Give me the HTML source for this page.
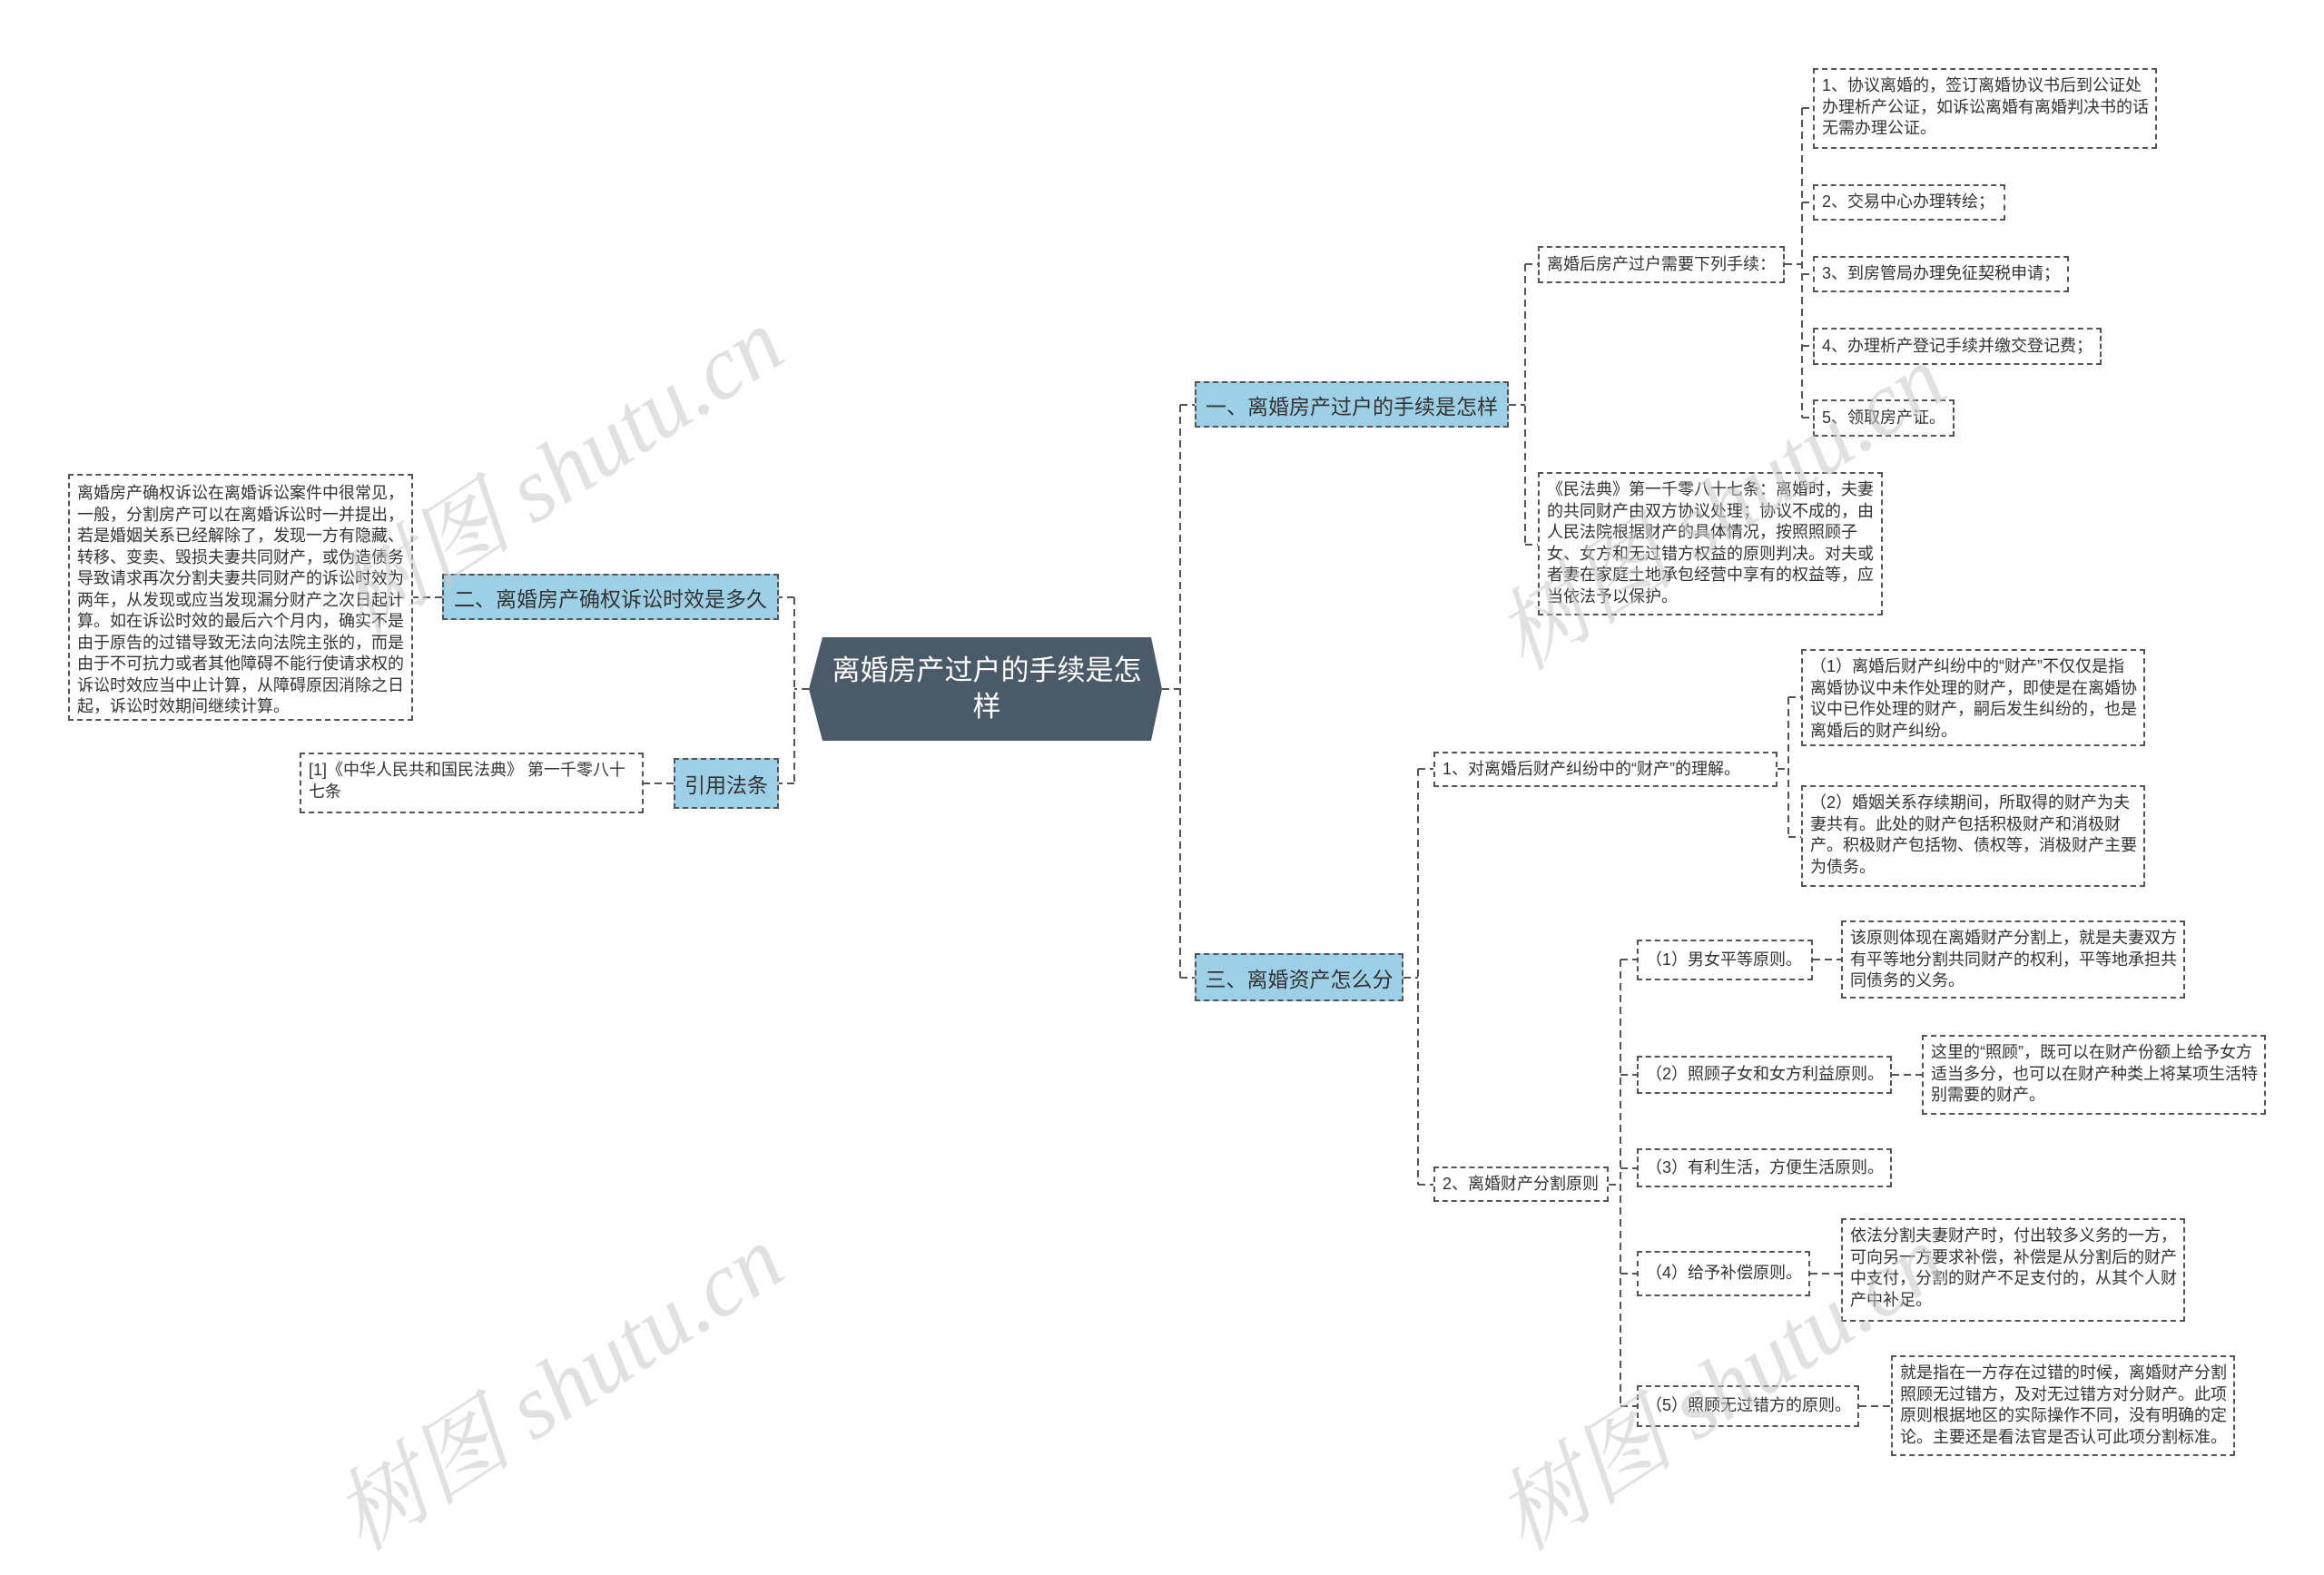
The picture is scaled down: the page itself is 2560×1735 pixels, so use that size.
<!DOCTYPE html>
<html><head><meta charset="utf-8"><style>
body{margin:0;width:2560px;height:1675px;background:#fff;position:relative;overflow:hidden;font-family:"Liberation Sans","Noto Sans CJK SC",sans-serif;color:#333}
.n{position:absolute;box-sizing:border-box;border:2px dashed #555;font-size:18px;line-height:23.5px;padding:6px 6px 6px 8px;background:#fff;overflow:hidden}
.s{display:flex;align-items:center;white-space:nowrap}
.h{position:absolute;box-sizing:border-box;border:2px dashed #555;background:#9dd0e6;font-size:23px;display:flex;align-items:center;justify-content:center;color:#333;white-space:nowrap}
.wm{position:absolute;font-family:"Liberation Serif","Noto Serif CJK SC",serif;font-size:100px;color:rgba(200,200,200,0.55);transform:rotate(-33deg);white-space:nowrap;font-style:italic}
svg{position:absolute;left:0;top:0}
</style></head><body>
<svg width="2560" height="1675" fill="none" stroke="#555" stroke-width="2" stroke-dasharray="8,5">
<path d="M1280 759H1300M1300 446V1077M1300 446H1316M1300 1077H1316"/>
<path d="M891 759H875M875 658V863M875 658H858M875 863H858"/>
<path d="M487 658H455M742 863H709"/>
<path d="M1662 446H1680M1680 291V600M1680 291H1694M1680 600H1694"/>
<path d="M1966 291H1985M1985 119V460M1985 119H1997M1985 223H1997M1985 302H1997M1985 381H1997M1985 460H1997"/>
<path d="M1546 1077H1562M1562 847V1305M1562 847H1579M1562 1305H1579"/>
<path d="M1958 847H1970M1970 768V922M1970 768H1984M1970 922H1984"/>
<path d="M1772 1305H1785M1785 1057V1549M1785 1057H1803M1785 1184H1803M1785 1287H1803M1785 1403H1803M1785 1549H1803"/>
<path d="M1997 1057H2028M2084 1184H2117M1994 1403H2028M2048 1549H2083"/>
</svg>
<svg width="2560" height="1675"><polygon points="891,759 906,702 1268,702 1280,759 1268,816 906,816" fill="#4b5a69"/></svg>
<div style="position:absolute;left:915px;top:708px;width:344px;height:102px;display:flex;align-items:center;justify-content:center;text-align:center;color:#fff;font-size:31px;line-height:40px">离婚房产过户的手续是怎样</div>
<div class="h" style="left:1316px;top:420px;width:346px;height:51px">一、离婚房产过户的手续是怎样</div>
<div class="h" style="left:487px;top:632px;width:371px;height:51px">二、离婚房产确权诉讼时效是多久</div>
<div class="h" style="left:742px;top:835px;width:116px;height:56px">引用法条</div>
<div class="h" style="left:1316px;top:1050px;width:230px;height:53px">三、离婚资产怎么分</div>
<div class="n" style="left:75px;top:522px;width:380px;height:272px;padding-top:8px">离婚房产确权诉讼在离婚诉讼案件中很常见，一般，分割房产可以在离婚诉讼时一并提出，若是婚姻关系已经解除了，发现一方有隐藏、转移、变卖、毁损夫妻共同财产，或伪造债务导致请求再次分割夫妻共同财产的诉讼时效为两年，从发现或应当发现漏分财产之次日起计算。如在诉讼时效的最后六个月内，确实不是由于原告的过错导致无法向法院主张的，而是由于不可抗力或者其他障碍不能行使请求权的诉讼时效应当中止计算，从障碍原因消除之日起，诉讼时效期间继续计算。</div>
<div class="n" style="left:330px;top:829px;width:379px;height:67px">[1]《中华人民共和国民法典》 第一千零八十七条</div>
<div class="n s" style="left:1694px;top:271px;width:272px;height:41px">离婚后房产过户需要下列手续：</div>
<div class="n" style="left:1997px;top:75px;width:379px;height:89px">1、协议离婚的，签订离婚协议书后到公证处办理析产公证，如诉讼离婚有离婚判决书的话无需办理公证。</div>
<div class="n s" style="left:1997px;top:203px;width:212px;height:40px">2、交易中心办理转绘；</div>
<div class="n s" style="left:1997px;top:282px;width:282px;height:40px">3、到房管局办理免征契税申请；</div>
<div class="n s" style="left:1997px;top:361px;width:318px;height:41px">4、办理析产登记手续并缴交登记费；</div>
<div class="n s" style="left:1997px;top:440px;width:156px;height:41px">5、领取房产证。</div>
<div class="n" style="left:1694px;top:520px;width:380px;height:158px">《民法典》第一千零八十七条：离婚时，夫妻的共同财产由双方协议处理；协议不成的，由人民法院根据财产的具体情况，按照照顾子女、女方和无过错方权益的原则判决。对夫或者妻在家庭土地承包经营中享有的权益等，应当依法予以保护。</div>
<div class="n s" style="left:1579px;top:828px;width:379px;height:39px">1、对离婚后财产纠纷中的“财产”的理解。</div>
<div class="n" style="left:1984px;top:715px;width:379px;height:107px">（1）离婚后财产纠纷中的“财产”不仅仅是指离婚协议中未作处理的财产，即使是在离婚协议中已作处理的财产，嗣后发生纠纷的，也是离婚后的财产纠纷。</div>
<div class="n" style="left:1984px;top:865px;width:379px;height:112px">（2）婚姻关系存续期间，所取得的财产为夫妻共有。此处的财产包括积极财产和消极财产。积极财产包括物、债权等，消极财产主要为债务。</div>
<div class="n s" style="left:1579px;top:1285px;width:193px;height:39px">2、离婚财产分割原则</div>
<div class="n s" style="left:1803px;top:1035px;width:194px;height:45px">（1）男女平等原则。</div>
<div class="n" style="left:2028px;top:1014px;width:379px;height:86px">该原则体现在离婚财产分割上，就是夫妻双方有平等地分割共同财产的权利，平等地承担共同债务的义务。</div>
<div class="n s" style="left:1803px;top:1163px;width:281px;height:42px">（2）照顾子女和女方利益原则。</div>
<div class="n" style="left:2117px;top:1140px;width:379px;height:88px">这里的“照顾”，既可以在财产份额上给予女方适当多分，也可以在财产种类上将某项生活特别需要的财产。</div>
<div class="n s" style="left:1803px;top:1265px;width:281px;height:43px">（3）有利生活，方便生活原则。</div>
<div class="n s" style="left:1803px;top:1378px;width:191px;height:50px">（4）给予补偿原则。</div>
<div class="n" style="left:2028px;top:1342px;width:379px;height:114px">依法分割夫妻财产时，付出较多义务的一方，可向另一方要求补偿，补偿是从分割后的财产中支付，分割的财产不足支付的，从其个人财产中补足。</div>
<div class="n s" style="left:1803px;top:1526px;width:245px;height:46px">（5）照顾无过错方的原则。</div>
<div class="n" style="left:2083px;top:1493px;width:379px;height:111px">就是指在一方存在过错的时候，离婚财产分割照顾无过错方，及对无过错方对分财产。此项原则根据地区的实际操作不同，没有明确的定论。主要还是看法官是否认可此项分割标准。</div>
<div class="wm" style="left:330px;top:440px">树图 shutu.cn</div>
<div class="wm" style="left:330px;top:1450px">树图 shutu.cn</div>
<div class="wm" style="left:1610px;top:480px">树图 shutu.cn</div>
<div class="wm" style="left:1610px;top:1450px">树图 shutu.cn</div>
</body></html>
